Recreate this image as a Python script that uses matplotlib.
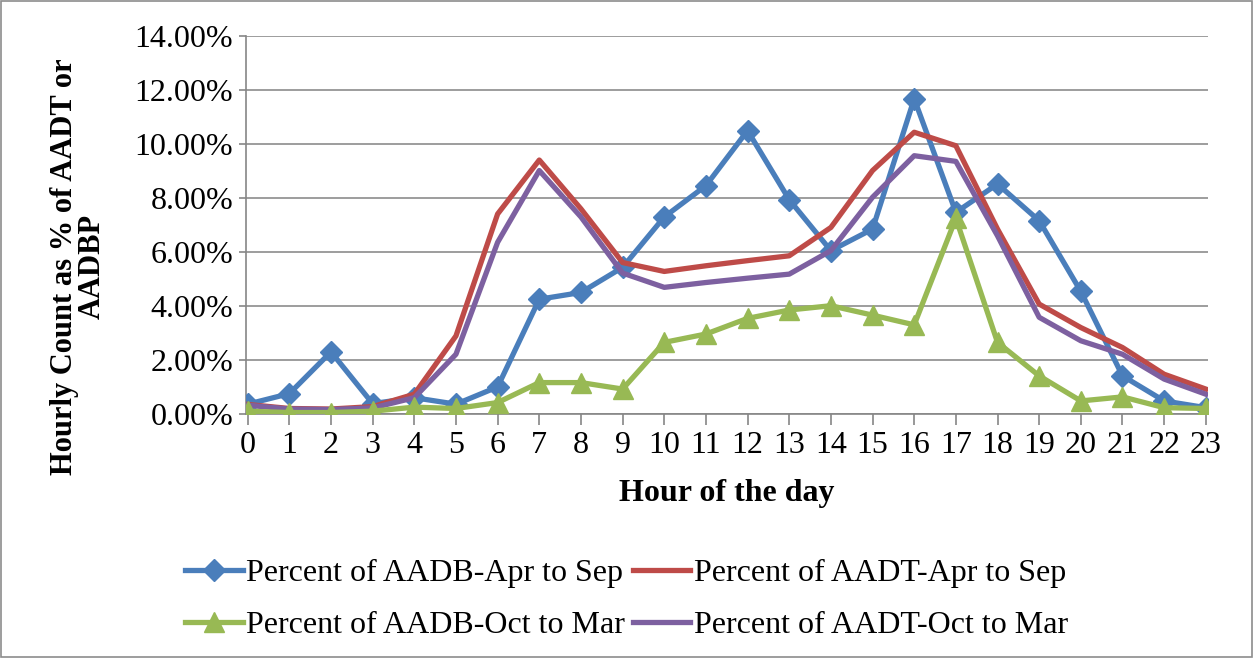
"""
Hourly count as % of AADT / AADB chart.
"""

import matplotlib
matplotlib.use("Agg")
import matplotlib.pyplot as plt
from matplotlib.ticker import FuncFormatter

plt.rcParams['font.family'] = ['Liberation Serif', 'DejaVu Serif']

HOURS = list(range(24))

"""Series values, in percent."""
aadb_apr_sep = [0.36, 0.75, 2.3, 0.38, 0.6, 0.36, 1.0, 4.25, 4.5, 5.43, 7.3, 8.46,
                10.5, 7.94, 6.05, 6.85, 11.68, 7.47, 8.52, 7.16, 4.54, 1.41, 0.48, 0.23]
aadt_apr_sep = [0.35, 0.2, 0.18, 0.27, 0.73, 2.89, 7.41, 9.41, 7.6, 5.61, 5.28, 5.49,
                5.68, 5.86, 6.91, 9.02, 10.44, 9.94, 6.85, 4.07, 3.2, 2.46, 1.47, 0.92]
aadb_oct_mar = [0.1, 0.05, 0.05, 0.1, 0.25, 0.2, 0.42, 1.16, 1.16, 0.92, 2.65, 2.96,
                3.54, 3.85, 4.01, 3.66, 3.3, 7.25, 2.65, 1.41, 0.48, 0.63, 0.23, 0.2]
aadt_oct_mar = [0.32, 0.18, 0.16, 0.22, 0.6, 2.21, 6.36, 9.02, 7.3, 5.22, 4.69, 4.87,
                5.03, 5.18, 6.05, 8.03, 9.57, 9.36, 6.6, 3.58, 2.71, 2.21, 1.29, 0.73]

LABELS = ["Percent of AADB-Apr to Sep", "Percent of AADT-Apr to Sep",
          "Percent of AADB-Oct to Mar", "Percent of AADT-Oct to Mar"]
Y_TICKS = [0, 2, 4, 6, 8, 10, 12, 14]


def main():
    fig = plt.figure(figsize=(12.53, 6.58), dpi=100)
    ax = fig.add_axes([0.196, 0.371, 0.768, 0.574])

    """Gray border around the whole figure."""
    fig.patches.append(plt.Rectangle((0.001, 0.001), 0.998, 0.997, transform=fig.transFigure,
                                     fill=False, edgecolor="#8c8c8c", linewidth=1.2))

    lw = 3.8
    l1, = ax.plot(HOURS, aadb_apr_sep, color="#4a7ebb", lw=lw, marker="D", markersize=11, zorder=3)
    l2, = ax.plot(HOURS, aadt_apr_sep, color="#be4b48", lw=lw, zorder=4)
    l3, = ax.plot(HOURS, aadb_oct_mar, color="#98b954", lw=lw, marker="^", markersize=14, zorder=5)
    l4, = ax.plot(HOURS, aadt_oct_mar, color="#7d60a0", lw=lw, zorder=4)

    ax.set_xlim(-0.05, 23.05)
    ax.set_ylim(0, 14)
    ax.set_xticks(HOURS)
    ax.set_yticks(Y_TICKS)
    ax.yaxis.set_major_formatter(FuncFormatter(lambda v, p: "%.2f%%" % v))
    ax.tick_params(axis="both", labelsize=23, color="#868686")
    ax.tick_params(axis="x", length=8, width=1.2, pad=4)
    ax.tick_params(axis="y", length=5, width=1.2, pad=4)

    ax.grid(axis="y", color="#8c8c8c", linewidth=1.2)
    ax.set_axisbelow(True)
    for side in ["top", "right"]:
        ax.spines[side].set_visible(False)
    for side in ["left", "bottom"]:
        ax.spines[side].set_color("#868686")
        ax.spines[side].set_linewidth(1.2)

    ax.set_xlabel("Hour of the day", fontsize=23, fontweight="bold", labelpad=14)
    ax.set_ylabel("Hourly Count as % of AADT or\nAADBP", fontsize=22, fontweight="bold",
                  linespacing=0.95)
    ax.yaxis.set_label_coords(-0.144, 0.39)

    """Legend fills row by row."""
    fig.legend([l1, l3, l2, l4], [LABELS[0], LABELS[2], LABELS[1], LABELS[3]],
               loc="center", bbox_to_anchor=(0.5, 0.089),
               ncol=2, frameon=False, fontsize=23, handlelength=1.8, handletextpad=0.1,
               columnspacing=0.25, labelspacing=0.72)

    fig.savefig("out.png", dpi=100)


if __name__ == "__main__":
    main()
